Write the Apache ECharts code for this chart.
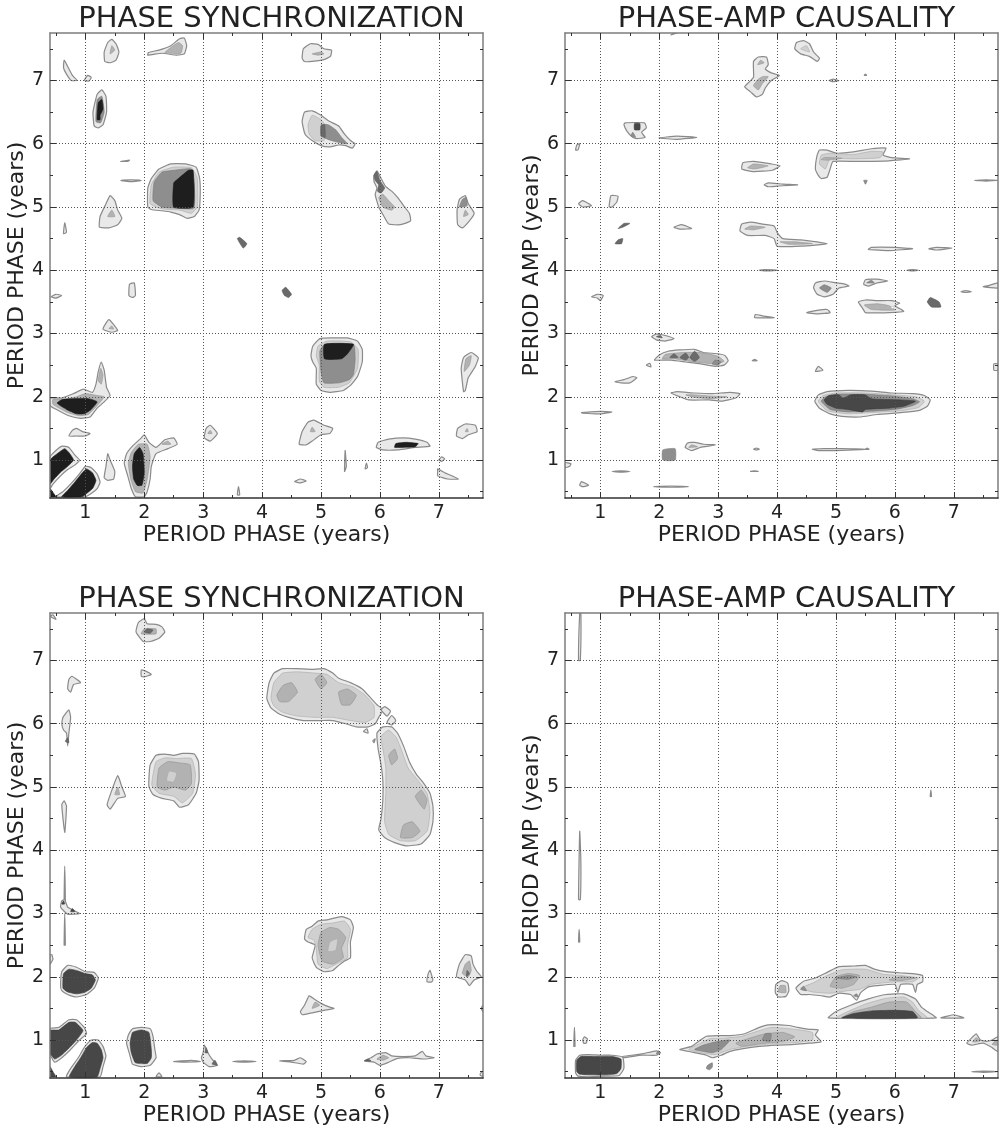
<!DOCTYPE html>
<html>
<head>
<meta charset="utf-8">
<script src="https://cdn.jsdelivr.net/npm/echarts@6/dist/echarts.min.js"></script>
<style>html,body{margin:0;padding:0;background:#fff}#c{width:1003px;height:1129px}</style>
</head>
<body>
<div id="c"></div>
<script>
// axis settings
const AXIS_MIN = 0.4, AXIS_MAX = 7.75;
const majorTicks = [1, 2, 3, 4, 5, 6, 7];
const minorTicks = [0.5, 1.5, 2.5, 3.5, 4.5, 5.5, 6.5, 7.5];
const titles = ['PHASE SYNCHRONIZATION', 'PHASE-AMP CAUSALITY', 'PHASE SYNCHRONIZATION', 'PHASE-AMP CAUSALITY'];
const xNames = ['PERIOD PHASE (years)', 'PERIOD PHASE (years)', 'PERIOD PHASE (years)', 'PERIOD PHASE (years)'];
const yNames = ['PERIOD PHASE (years)', 'PERIOD AMP (years)', 'PERIOD PHASE (years)', 'PERIOD AMP (years)'];

// contour regions: [level, x1,y1, x2,y2, ...] in data units (years)
const syncTop = [
[1, 0.64,7.32, 0.7,7.22, 0.78,7.08, 0.86,7.0, 0.76,7.0, 0.68,7.1, 0.63,7.2],
[1, 0.98,7.0, 1.04,7.08, 1.1,7.05, 1.06,6.99],
[1, 1.33,7.3, 1.32,7.45, 1.38,7.6, 1.45,7.65, 1.52,7.58, 1.57,7.45, 1.52,7.32, 1.42,7.28],
[3, 1.42,7.42, 1.45,7.55, 1.5,7.48],
[1, 2.06,7.4, 2.3,7.43, 2.55,7.4, 2.68,7.42, 2.72,7.55, 2.68,7.67, 2.6,7.66, 2.45,7.55, 2.25,7.48, 2.07,7.44],
[3, 2.35,7.44, 2.62,7.43, 2.65,7.55, 2.58,7.6, 2.45,7.52],
[1, 1.15,6.28, 1.13,6.5, 1.2,6.78, 1.28,6.85, 1.35,6.75, 1.36,6.5, 1.3,6.3, 1.22,6.25],
[4, 1.18,6.35, 1.2,6.7, 1.28,6.75, 1.32,6.5, 1.26,6.33],
[7, 1.2,6.38, 1.22,6.65, 1.28,6.7, 1.3,6.55, 1.25,6.45, 1.25,6.38],
[1, 4.68,7.35, 4.7,7.5, 4.82,7.58, 4.95,7.57, 5.05,7.5, 5.18,7.48, 5.16,7.38, 5.05,7.33, 4.85,7.3, 4.72,7.3],
[3, 4.85,7.42, 5.0,7.45, 5.05,7.42, 4.95,7.4],
[1, 4.68,6.35, 4.72,6.5, 4.85,6.52, 5.0,6.45, 5.15,6.35, 5.3,6.28, 5.4,6.15, 5.5,6.05, 5.58,6.0, 5.53,5.93, 5.42,5.97, 5.3,5.98, 5.15,5.95, 5.0,5.97, 4.85,6.05, 4.73,6.15],
[2, 4.78,6.3, 4.85,6.45, 5.0,6.38, 5.1,6.25, 5.05,6.05, 4.9,6.05, 4.8,6.15],
[4, 5.0,6.3, 5.12,6.3, 5.25,6.22, 5.35,6.1, 5.45,6.0, 5.3,6.02, 5.18,6.05, 5.05,6.1],
[5, 5.0,6.28, 5.06,6.3, 5.07,6.1, 5.0,6.12],
[1, 1.6,5.72, 1.75,5.74, 1.72,5.72],
[1, 1.6,5.42, 1.78,5.43, 1.95,5.42, 1.78,5.4],
[1, 2.06,5.0, 2.06,5.3, 2.12,5.45, 2.25,5.6, 2.45,5.68, 2.7,5.68, 2.88,5.63, 2.94,5.45, 2.95,5.2, 2.93,4.95, 2.85,4.85, 2.73,4.82, 2.6,4.88, 2.45,4.92, 2.3,4.94, 2.12,4.96],
[2, 2.1,5.05, 2.12,5.35, 2.25,5.55, 2.5,5.63, 2.8,5.62, 2.9,5.45, 2.9,5.0, 2.8,4.9, 2.6,4.95, 2.3,4.97],
[4, 2.15,5.1, 2.17,5.4, 2.3,5.55, 2.5,5.58, 2.8,5.6, 2.85,5.35, 2.84,4.98, 2.55,4.98, 2.3,5.0],
[7, 2.5,5.0, 2.5,5.38, 2.58,5.45, 2.75,5.58, 2.83,5.58, 2.83,5.0],
[1, 1.24,4.68, 1.25,4.85, 1.35,5.05, 1.42,5.18, 1.5,5.1, 1.55,4.95, 1.62,4.82, 1.55,4.72, 1.4,4.67],
[3, 1.38,4.85, 1.45,4.95, 1.5,4.85],
[1, 0.63,4.58, 0.65,4.75, 0.68,4.6],
[1, 5.9,5.5, 5.95,5.57, 6.02,5.45, 6.1,5.32, 6.2,5.25, 6.3,5.15, 6.42,5.0, 6.5,4.9, 6.52,4.78, 6.35,4.72, 6.15,4.73, 6.07,4.85, 5.98,5.0, 5.92,5.2, 5.95,5.3, 5.9,5.4],
[5, 5.9,5.5, 5.95,5.56, 6.0,5.42, 6.08,5.3, 6.02,5.22, 5.96,5.25, 5.98,5.35, 5.92,5.42],
[3, 5.98,5.15, 6.05,5.2, 6.15,5.1, 6.25,5.0, 6.2,4.95, 6.05,5.0],
[1, 7.32,4.72, 7.31,4.95, 7.35,5.12, 7.45,5.18, 7.5,5.05, 7.6,4.9, 7.52,4.78, 7.4,4.67],
[4, 7.35,5.0, 7.4,5.12, 7.46,5.15, 7.48,5.02],
[3, 7.42,4.85, 7.45,4.95, 7.5,4.88],
[5, 3.58,4.5, 3.62,4.52, 3.74,4.42, 3.68,4.35],
[1, 0.42,3.58, 0.5,3.62, 0.6,3.6, 0.5,3.56],
[1, 1.74,3.6, 1.75,3.78, 1.83,3.8, 1.85,3.6, 1.8,3.57],
[5, 4.34,3.68, 4.4,3.73, 4.5,3.62, 4.45,3.57, 4.38,3.6],
[1, 1.3,3.07, 1.4,3.22, 1.55,3.05, 1.45,3.02],
[3, 1.4,3.08, 1.45,3.12, 1.48,3.07],
[1, 4.83,2.65, 4.86,2.8, 4.98,2.92, 5.2,2.93, 5.45,2.93, 5.62,2.88, 5.7,2.75, 5.7,2.55, 5.62,2.32, 5.5,2.18, 5.38,2.1, 5.15,2.07, 5.0,2.1, 4.92,2.2, 4.92,2.45, 4.86,2.55],
[2, 4.92,2.65, 4.95,2.8, 5.1,2.88, 5.5,2.87, 5.63,2.75, 5.62,2.45, 5.48,2.22, 5.3,2.15, 5.05,2.15, 4.97,2.25, 4.97,2.5],
[4, 4.98,2.72, 5.05,2.82, 5.55,2.83, 5.58,2.6, 5.55,2.35, 5.48,2.27, 5.3,2.22, 5.05,2.22, 5.0,2.4],
[7, 5.06,2.6, 5.06,2.83, 5.55,2.83, 5.45,2.68, 5.35,2.6],
[1, 7.42,2.08, 7.38,2.45, 7.42,2.62, 7.55,2.7, 7.67,2.62, 7.62,2.48, 7.5,2.3, 7.45,2.1],
[3, 7.43,2.4, 7.46,2.6, 7.55,2.65, 7.52,2.5],
[1, 0.4,1.86, 0.4,1.98, 0.6,1.98, 0.8,2.05, 0.97,2.12, 1.12,2.07, 1.18,2.2, 1.22,2.4, 1.27,2.55, 1.32,2.42, 1.36,2.15, 1.42,2.02, 1.32,1.92, 1.2,1.82, 1.08,1.68, 0.92,1.66, 0.72,1.7, 0.55,1.78],
[3, 0.45,1.88, 0.45,1.96, 0.62,1.96, 0.85,2.0, 1.0,2.05, 1.2,2.02, 1.32,2.0, 1.2,1.86, 1.05,1.72, 0.9,1.7, 0.7,1.75],
[7, 0.52,1.9, 0.62,1.96, 1.05,1.97, 1.2,1.92, 1.1,1.8, 0.98,1.73, 0.85,1.73, 0.68,1.8],
[3, 1.22,2.25, 1.26,2.45, 1.3,2.35, 1.27,2.2],
[1, 0.72,1.38, 0.78,1.47, 0.85,1.5, 0.95,1.45, 1.08,1.42, 1.0,1.38, 0.85,1.38],
[1, 0.4,0.55, 0.4,1.05, 0.5,1.15, 0.6,1.22, 0.72,1.2, 0.82,1.08, 0.9,1.0, 0.82,0.92, 0.7,0.85, 0.58,0.75, 0.45,0.62],
[7, 0.4,0.62, 0.4,1.0, 0.55,1.12, 0.65,1.18, 0.72,1.12, 0.8,1.0, 0.7,0.9, 0.57,0.8, 0.47,0.7],
[1, 0.5,0.42, 0.62,0.5, 0.78,0.65, 0.9,0.78, 1.0,0.9, 1.1,0.88, 1.2,0.78, 1.25,0.65, 1.2,0.55, 1.1,0.47, 1.0,0.42],
[7, 0.6,0.42, 0.7,0.52, 0.82,0.65, 0.95,0.8, 1.02,0.86, 1.12,0.8, 1.18,0.68, 1.13,0.56, 1.02,0.47, 0.95,0.42],
[7, 0.4,0.42, 0.4,0.55, 0.48,0.45, 0.5,0.42],
[1, 1.66,0.95, 1.7,1.1, 1.8,1.22, 1.95,1.35, 2.0,1.4, 2.08,1.28, 2.2,1.2, 2.35,1.32, 2.5,1.35, 2.56,1.25, 2.4,1.18, 2.2,1.1, 2.12,0.9, 2.1,0.7, 2.05,0.5, 2.0,0.42, 1.85,0.42, 1.78,0.55, 1.72,0.75],
[3, 1.73,0.95, 1.78,1.12, 1.9,1.25, 2.05,1.25, 2.1,1.05, 2.05,0.7, 1.98,0.48, 1.85,0.5, 1.77,0.7],
[7, 1.8,0.9, 1.83,1.1, 1.92,1.2, 1.98,1.1, 2.0,0.8, 1.96,0.6, 1.88,0.6, 1.82,0.7],
[3, 2.3,1.25, 2.4,1.3, 2.45,1.25],
[1, 1.32,0.72, 1.35,0.9, 1.38,1.1, 1.42,1.0, 1.5,0.82, 1.48,0.7, 1.38,0.68],
[1, 3.02,1.35, 3.05,1.5, 3.12,1.55, 3.24,1.42, 3.12,1.3],
[3, 3.08,1.42, 3.12,1.47, 3.15,1.42],
[1, 4.63,1.25, 4.68,1.45, 4.78,1.6, 4.88,1.63, 5.05,1.55, 5.2,1.5, 5.15,1.42, 5.0,1.4, 4.85,1.3, 4.75,1.24],
[3, 4.82,1.45, 4.85,1.52, 4.9,1.45],
[1, 5.94,1.2, 5.97,1.28, 6.15,1.33, 6.4,1.35, 6.6,1.33, 6.8,1.28, 6.85,1.22, 6.6,1.2, 6.3,1.16, 6.05,1.16],
[7, 6.25,1.2, 6.27,1.26, 6.45,1.28, 6.65,1.26, 6.6,1.21, 6.4,1.2],
[1, 7.3,1.38, 7.32,1.5, 7.45,1.57, 7.62,1.55, 7.65,1.45, 7.5,1.4, 7.4,1.34],
[3, 7.45,1.45, 7.48,1.5, 7.5,1.45],
[1, 7.0,1.0, 7.05,1.05, 7.1,1.02, 7.05,0.98],
[1, 6.98,0.82, 6.98,0.86, 7.1,0.8, 7.33,0.7, 7.15,0.7, 6.98,0.75],
[1, 5.4,0.82, 5.41,1.15, 5.43,0.9],
[1, 5.75,0.86, 5.77,0.95, 5.79,0.88],
[1, 4.55,0.66, 4.65,0.7, 4.75,0.67, 4.65,0.64],
[1, 3.58,0.45, 3.6,0.58, 3.62,0.45]
];

const causTop = [
[1, 3.6,7.3, 3.68,7.37, 3.82,7.37, 3.85,7.25, 3.8,7.18, 3.9,7.12, 4.04,7.08, 3.9,7.0, 3.8,6.88, 3.75,6.78, 3.65,6.74, 3.55,6.82, 3.45,6.9, 3.52,6.97, 3.6,7.05, 3.6,7.15],
[3, 3.6,6.92, 3.68,7.02, 3.75,7.06, 3.85,7.06, 3.75,6.95, 3.68,6.85],
[3, 3.67,7.25, 3.72,7.32, 3.78,7.28],
[1, 4.3,7.5, 4.33,7.6, 4.45,7.63, 4.55,7.58, 4.62,7.45, 4.72,7.35, 4.68,7.3, 4.55,7.38, 4.4,7.42],
[2, 4.4,7.5, 4.5,7.55, 4.55,7.45],
[1, 4.88,7.0, 4.95,7.02, 5.05,7.0, 4.95,6.98],
[1, 5.48,7.08, 5.5,7.1, 5.52,7.08],
[1, 2.2,7.72, 2.25,7.75, 2.3,7.75],
[1, 1.4,6.3, 1.42,6.33, 1.75,6.33, 1.78,6.25, 1.7,6.18, 1.76,6.1, 1.62,6.08, 1.55,6.1, 1.45,6.2],
[6, 1.58,6.22, 1.58,6.32, 1.67,6.32, 1.67,6.22],
[4, 1.52,6.12, 1.6,6.1, 1.55,6.18],
[1, 1.99,6.09, 2.3,6.12, 2.64,6.1, 2.3,6.07],
[1, 0.58,5.9, 0.6,5.98, 0.65,6.0, 0.62,5.9],
[1, 3.4,5.6, 3.42,5.7, 3.6,5.72, 3.9,5.68, 4.05,5.65, 3.92,5.58, 3.6,5.56],
[3, 3.5,5.62, 3.6,5.68, 3.85,5.65, 3.62,5.6],
[1, 4.65,5.6, 4.68,5.82, 4.72,5.9, 4.85,5.9, 5.0,5.85, 5.3,5.87, 5.6,5.92, 5.85,5.93, 5.8,5.82, 5.95,5.78, 6.25,5.76, 5.9,5.73, 5.35,5.72, 4.95,5.72, 4.9,5.6, 4.85,5.47, 4.75,5.45, 4.7,5.5],
[2, 4.72,5.68, 4.75,5.82, 4.9,5.85, 5.3,5.83, 5.6,5.88, 5.8,5.87, 5.75,5.78, 5.3,5.76, 4.9,5.76, 4.82,5.6],
[3, 4.75,5.75, 4.8,5.78, 5.1,5.77, 4.85,5.74],
[1, 3.78,5.35, 3.85,5.38, 4.1,5.36, 4.35,5.35, 4.0,5.33, 3.85,5.32],
[4, 5.47,5.42, 5.53,5.42, 5.5,5.36],
[1, 0.63,5.05, 0.7,5.1, 0.85,5.02, 0.7,5.0],
[1, 1.15,5.0, 1.18,5.18, 1.3,5.17, 1.28,5.08, 1.2,5.0],
[1, 7.35,5.42, 7.55,5.43, 7.75,5.42, 7.55,5.41],
[5, 1.3,4.66, 1.4,4.74, 1.5,4.74, 1.38,4.68],
[5, 1.25,4.42, 1.3,4.48, 1.38,4.5, 1.36,4.42],
[1, 2.25,4.68, 2.38,4.72, 2.55,4.66, 2.35,4.65],
[1, 3.37,4.62, 3.4,4.73, 3.55,4.76, 3.75,4.73, 3.95,4.7, 4.0,4.6, 4.1,4.5, 4.4,4.48, 4.85,4.42, 4.4,4.38, 4.0,4.38, 3.95,4.5, 3.8,4.55, 3.5,4.55],
[3, 3.45,4.65, 3.55,4.7, 3.8,4.68, 3.6,4.64],
[3, 4.05,4.45, 4.3,4.45, 4.6,4.42, 4.2,4.41],
[1, 5.55,4.33, 5.6,4.36, 6.0,4.36, 6.3,4.34, 5.9,4.31],
[1, 6.57,4.34, 6.7,4.36, 6.97,4.35, 6.7,4.32],
[1, 3.7,4.0, 3.8,4.01, 4.0,4.0, 3.85,3.99],
[1, 6.2,4.0, 6.3,4.01, 6.4,4.0, 6.3,3.99],
[1, 4.62,3.72, 4.65,3.8, 4.8,3.83, 5.0,3.8, 5.15,3.78, 5.22,3.75, 5.05,3.72, 4.95,3.62, 4.8,3.58, 4.68,3.62],
[4, 4.72,3.72, 4.8,3.77, 4.92,3.72, 4.85,3.65],
[1, 5.47,3.78, 5.5,3.85, 5.7,3.86, 5.88,3.83, 5.7,3.8, 5.55,3.75],
[4, 5.52,3.8, 5.6,3.84, 5.65,3.8],
[1, 5.38,3.5, 5.5,3.53, 5.7,3.52, 5.95,3.52, 6.08,3.48, 6.0,3.44, 6.15,3.35, 5.9,3.33, 5.5,3.33, 5.45,3.4],
[3, 5.48,3.45, 5.7,3.47, 5.9,3.44, 6.0,3.37, 5.6,3.38],
[0, 5.93,3.41, 5.96,3.43, 5.99,3.41, 5.96,3.39],
[5, 6.55,3.5, 6.6,3.57, 6.75,3.5, 6.78,3.42, 6.62,3.42],
[1, 4.5,3.33, 4.7,3.37, 4.85,3.38, 4.9,3.33, 4.7,3.31],
[1, 0.85,3.58, 0.95,3.62, 1.05,3.6, 1.0,3.52, 0.95,3.56],
[1, 7.12,3.66, 7.2,3.68, 7.3,3.66, 7.2,3.65],
[1, 7.5,3.74, 7.6,3.76, 7.75,3.8, 7.75,3.72],
[1, 3.62,3.25, 3.63,3.3, 3.75,3.28, 3.95,3.25],
[1, 1.87,2.95, 1.95,2.99, 2.05,2.98, 2.25,2.92, 2.1,2.88, 1.95,2.9],
[5, 1.95,2.95, 2.02,2.97, 2.05,2.93],
[1, 1.92,2.58, 2.0,2.66, 2.15,2.72, 2.35,2.74, 2.6,2.75, 2.75,2.7, 3.0,2.68, 3.12,2.65, 3.17,2.57, 3.1,2.5, 2.95,2.48, 2.7,2.52, 2.45,2.55, 2.2,2.58],
[3, 2.05,2.6, 2.1,2.67, 2.4,2.7, 2.7,2.7, 3.0,2.64, 3.1,2.56, 2.95,2.52, 2.6,2.55, 2.25,2.6],
[5, 2.18,2.62, 2.25,2.68, 2.32,2.62],
[5, 2.35,2.62, 2.45,2.69, 2.5,2.62, 2.45,2.58],
[5, 2.52,2.62, 2.6,2.72, 2.68,2.62, 2.6,2.56],
[4, 2.9,2.52, 2.95,2.58, 3.05,2.55, 3.0,2.5],
[1, 1.78,2.5, 1.84,2.53, 1.86,2.47],
[1, 1.25,2.24, 1.4,2.27, 1.55,2.32, 1.62,2.3, 1.5,2.22, 1.35,2.22],
[1, 3.58,2.57, 3.62,2.59, 3.66,2.57],
[1, 4.65,2.4, 4.7,2.48, 4.78,2.42],
[1, 7.68,2.42, 7.68,2.52, 7.75,2.52, 7.75,2.42],
[1, 2.2,2.06, 2.3,2.08, 2.6,2.06, 2.9,2.05, 3.2,2.07, 3.37,2.05, 3.3,1.98, 3.05,1.93, 2.85,1.95, 2.5,1.95, 2.35,2.0],
[3, 2.45,2.03, 2.6,2.03, 2.9,2.01, 3.15,2.0, 2.9,1.97, 2.6,1.99],
[1, 4.64,1.93, 4.7,2.03, 4.85,2.08, 5.2,2.1, 5.6,2.09, 5.95,2.06, 6.3,2.05, 6.5,2.02, 6.6,1.95, 6.55,1.85, 6.4,1.78, 6.1,1.75, 5.7,1.72, 5.4,1.68, 5.1,1.69, 4.9,1.73, 4.72,1.82],
[2, 4.7,1.93, 4.78,2.02, 5.0,2.06, 5.5,2.06, 6.0,2.03, 6.35,2.0, 6.5,1.93, 6.4,1.83, 6.1,1.78, 5.6,1.75, 5.2,1.73, 4.85,1.78],
[4, 4.75,1.93, 4.82,2.0, 5.0,2.04, 5.5,2.04, 6.0,2.01, 6.3,1.97, 6.42,1.92, 6.3,1.86, 6.0,1.8, 5.6,1.77, 5.2,1.76, 4.9,1.8],
[6, 4.8,1.95, 4.88,2.02, 5.05,2.03, 5.12,1.98, 5.25,2.03, 5.5,2.03, 5.6,1.97, 5.75,1.96, 6.1,1.95, 6.35,1.93, 6.15,1.85, 5.9,1.82, 5.5,1.8, 5.45,1.76, 5.2,1.8, 5.0,1.82, 4.85,1.88],
[1, 0.68,1.75, 1.0,1.77, 1.2,1.76, 1.0,1.73, 0.7,1.74],
[1, 2.44,1.2, 2.48,1.27, 2.6,1.28, 2.75,1.25, 2.95,1.24, 2.7,1.2, 2.55,1.15],
[3, 2.5,1.2, 2.55,1.24, 2.65,1.21],
[4, 2.06,1.0, 2.06,1.16, 2.27,1.18, 2.27,1.0],
[1, 4.6,1.17, 4.8,1.18, 5.1,1.18, 5.5,1.17, 5.0,1.15, 4.7,1.15],
[1, 3.6,1.17, 3.65,1.19, 3.7,1.17, 3.65,1.16],
[1, 5.5,1.17, 5.53,1.19, 5.56,1.17],
[1, 0.4,0.88, 0.4,0.96, 0.5,0.94, 0.48,0.9],
[1, 0.65,0.6, 0.68,0.66, 0.8,0.6, 0.7,0.58],
[1, 1.9,0.58, 2.2,0.59, 2.5,0.58, 2.2,0.57],
[1, 1.2,0.82, 1.35,0.83, 1.5,0.82, 1.35,0.81],
[1, 3.55,0.82, 3.62,0.83, 3.68,0.82]
];

const syncBottom = [
[1, 1.86,7.45, 1.9,7.6, 2.0,7.66, 2.05,7.58, 2.2,7.57, 2.3,7.53, 2.35,7.45, 2.25,7.35, 2.1,7.3, 1.98,7.3],
[3, 1.95,7.42, 2.0,7.5, 2.2,7.5, 2.2,7.42],
[5, 2.0,7.45, 2.05,7.5, 2.15,7.48, 2.1,7.43],
[1, 1.95,6.75, 1.95,6.85, 2.05,6.82, 2.12,6.78, 2.0,6.74],
[1, 0.4,7.7, 0.45,7.72, 0.5,7.65],
[1, 0.7,6.55, 0.72,6.7, 0.77,6.75, 0.92,6.65, 0.8,6.62, 0.75,6.5],
[1, 0.6,6.0, 0.62,6.1, 0.72,6.22, 0.75,6.1, 0.72,5.85, 0.7,5.65, 0.68,5.85, 0.63,5.9],
[5, 0.66,5.72, 0.7,5.78, 0.72,5.7],
[1, 0.6,4.72, 0.64,4.78, 0.68,4.7, 0.65,4.28],
[1, 4.08,6.4, 4.12,6.65, 4.2,6.8, 4.35,6.87, 4.6,6.87, 4.85,6.86, 5.05,6.87, 5.2,6.8, 5.3,6.72, 5.5,6.65, 5.7,6.55, 5.85,6.4, 5.95,6.3, 6.05,6.22, 5.98,6.1, 5.92,6.0, 5.8,5.95, 5.6,5.95, 5.42,6.0, 5.2,6.05, 5.0,6.05, 4.7,6.05, 4.45,6.1, 4.3,6.15, 4.15,6.25],
[2, 4.15,6.4, 4.2,6.65, 4.35,6.8, 4.6,6.82, 4.9,6.8, 5.1,6.78, 5.3,6.65, 5.55,6.58, 5.75,6.45, 5.9,6.28, 5.9,6.1, 5.75,6.02, 5.5,6.05, 5.2,6.1, 4.9,6.1, 4.6,6.12, 4.35,6.18, 4.2,6.28],
[3, 4.25,6.45, 4.35,6.6, 4.5,6.65, 4.6,6.5, 4.45,6.35, 4.3,6.35],
[3, 5.3,6.5, 5.45,6.55, 5.6,6.45, 5.5,6.3, 5.35,6.3],
[3, 4.9,6.7, 5.0,6.78, 5.1,6.65, 5.0,6.55],
[1, 6.02,6.22, 6.08,6.27, 6.18,6.2, 6.12,6.12],
[1, 6.12,6.02, 6.2,6.13, 6.27,6.05, 6.2,5.98],
[1, 5.95,5.85, 6.05,5.95, 6.2,5.95, 6.3,5.85, 6.4,5.65, 6.5,5.4, 6.62,5.2, 6.75,5.05, 6.85,4.9, 6.9,4.7, 6.9,4.45, 6.85,4.25, 6.7,4.1, 6.45,4.07, 6.25,4.12, 6.08,4.2, 5.98,4.32, 6.02,4.5, 6.05,4.8, 6.05,5.1, 6.02,5.35, 5.97,5.6],
[2, 6.02,5.8, 6.15,5.9, 6.28,5.78, 6.38,5.55, 6.48,5.3, 6.65,5.1, 6.8,4.9, 6.85,4.6, 6.8,4.3, 6.6,4.15, 6.35,4.15, 6.15,4.25, 6.08,4.45, 6.1,4.9, 6.1,5.3, 6.05,5.6],
[3, 6.35,4.2, 6.4,4.4, 6.55,4.45, 6.68,4.3, 6.55,4.2],
[3, 6.6,4.85, 6.7,4.95, 6.8,4.8, 6.75,4.65],
[3, 6.15,5.5, 6.25,5.6, 6.3,5.45, 6.2,5.35],
[1, 5.72,5.88, 5.78,5.92, 5.8,5.85],
[1, 5.88,5.73, 5.92,5.76, 5.9,5.7],
[1, 2.08,5.15, 2.1,5.35, 2.2,5.5, 2.35,5.52, 2.5,5.5, 2.65,5.53, 2.85,5.52, 2.92,5.4, 2.93,5.1, 2.88,4.9, 2.75,4.72, 2.6,4.68, 2.5,4.78, 2.3,4.82, 2.15,4.88, 2.08,5.0],
[2, 2.14,5.15, 2.2,5.4, 2.35,5.46, 2.55,5.45, 2.8,5.45, 2.87,5.2, 2.82,4.9, 2.65,4.75, 2.5,4.85, 2.25,4.9, 2.13,5.02],
[3, 2.22,5.0, 2.25,5.3, 2.4,5.4, 2.6,5.38, 2.78,5.35, 2.8,5.05, 2.7,4.95, 2.5,5.0, 2.35,4.95],
[2, 2.38,5.1, 2.42,5.25, 2.55,5.22, 2.5,5.08],
[1, 1.37,4.72, 1.45,4.95, 1.55,5.18, 1.62,5.0, 1.68,4.85, 1.55,4.82, 1.42,4.65],
[3, 1.5,4.88, 1.55,5.0, 1.58,4.88],
[1, 0.64,3.2, 0.65,3.75, 0.66,3.2],
[1, 0.64,2.5, 0.65,3.0, 0.66,2.5],
[1, 0.58,3.1, 0.6,3.2, 0.65,3.22, 0.7,3.1, 0.8,3.05, 0.9,3.0, 0.7,2.99],
[6, 0.75,3.03, 0.78,3.08, 0.82,3.03],
[6, 0.6,3.15, 0.63,3.2, 0.65,3.15],
[1, 0.4,2.2, 0.45,2.28, 0.43,2.35, 0.4,2.35],
[1, 0.58,1.85, 0.6,2.08, 0.7,2.18, 0.85,2.15, 1.0,2.08, 1.15,2.07, 1.22,1.98, 1.15,1.82, 1.02,1.72, 0.85,1.68, 0.7,1.72, 0.6,1.78],
[6, 0.62,1.82, 0.63,2.05, 0.72,2.12, 0.85,2.1, 1.0,2.05, 1.12,2.03, 1.17,1.95, 1.1,1.82, 0.98,1.75, 0.85,1.73, 0.7,1.76],
[1, 0.4,0.78, 0.4,1.18, 0.55,1.2, 0.72,1.32, 0.85,1.32, 0.98,1.2, 1.02,1.1, 0.9,1.0, 0.75,0.85, 0.6,0.72, 0.48,0.65],
[6, 0.4,0.8, 0.4,1.15, 0.55,1.16, 0.72,1.28, 0.83,1.28, 0.96,1.15, 0.85,1.0, 0.72,0.87, 0.58,0.75, 0.48,0.7],
[1, 0.68,0.42, 0.75,0.55, 0.88,0.72, 0.98,0.88, 1.1,1.0, 1.22,1.0, 1.3,0.9, 1.35,0.75, 1.3,0.58, 1.25,0.42],
[6, 0.73,0.42, 0.8,0.55, 0.92,0.72, 1.02,0.88, 1.12,0.96, 1.2,0.95, 1.27,0.85, 1.3,0.72, 1.25,0.55, 1.2,0.42],
[6, 0.4,0.42, 0.4,0.58, 0.45,0.5, 0.5,0.42],
[1, 1.7,0.95, 1.73,1.08, 1.8,1.18, 1.95,1.2, 2.1,1.18, 2.15,1.05, 2.18,0.85, 2.2,0.72, 2.1,0.6, 1.95,0.58, 1.8,0.62, 1.75,0.78],
[6, 1.76,0.95, 1.8,1.12, 1.95,1.16, 2.08,1.12, 2.12,0.85, 2.12,0.72, 2.05,0.63, 1.85,0.64, 1.78,0.8],
[1, 4.72,2.6, 4.75,2.75, 4.85,2.8, 4.95,2.88, 5.1,2.9, 5.35,2.95, 5.5,2.9, 5.55,2.78, 5.5,2.55, 5.5,2.3, 5.4,2.25, 5.3,2.18, 5.2,2.1, 5.05,2.08, 4.92,2.15, 4.85,2.3, 4.9,2.5, 4.78,2.55],
[2, 4.78,2.62, 4.85,2.75, 5.0,2.83, 5.2,2.85, 5.4,2.88, 5.5,2.75, 5.45,2.5, 5.45,2.3, 5.3,2.22, 5.1,2.13, 4.95,2.2, 4.92,2.45, 4.88,2.58],
[3, 4.95,2.5, 5.0,2.7, 5.15,2.78, 5.3,2.75, 5.42,2.62, 5.35,2.45, 5.38,2.3, 5.2,2.2, 5.02,2.25],
[2, 5.12,2.4, 5.15,2.55, 5.28,2.6, 5.25,2.42],
[1, 6.8,1.92, 6.82,2.05, 6.85,2.1, 6.9,1.95, 6.88,1.92],
[1, 7.3,2.0, 7.35,2.2, 7.45,2.35, 7.55,2.33, 7.58,2.2, 7.65,2.08, 7.72,2.0, 7.6,1.95, 7.52,1.86, 7.45,1.95],
[3, 7.4,2.05, 7.45,2.2, 7.52,2.25, 7.55,2.1, 7.5,2.0],
[5, 7.47,2.0, 7.48,2.1, 7.52,2.05],
[1, 4.65,1.45, 4.72,1.55, 4.8,1.7, 4.88,1.65, 5.0,1.58, 5.15,1.52, 5.22,1.5, 5.05,1.47, 4.85,1.43, 4.68,1.4],
[3, 4.85,1.5, 4.9,1.6, 4.98,1.55],
[1, 2.97,0.72, 3.0,0.8, 3.02,0.92, 3.08,0.8, 3.15,0.7, 3.24,0.6, 3.1,0.58, 3.0,0.65],
[5, 3.03,0.8, 3.05,0.88, 3.08,0.8],
[5, 3.15,0.62, 3.2,0.68, 3.24,0.6],
[1, 2.5,0.66, 2.8,0.68, 2.95,0.66, 2.7,0.65],
[1, 3.5,0.66, 3.7,0.67, 3.9,0.66, 3.7,0.65],
[1, 4.3,0.67, 4.55,0.68, 4.65,0.72, 4.75,0.66, 4.7,0.62, 4.5,0.65],
[1, 5.74,0.67, 5.85,0.72, 5.95,0.78, 6.1,0.8, 6.2,0.75, 6.4,0.74, 6.6,0.75, 6.72,0.82, 6.78,0.75, 6.92,0.72, 6.75,0.7, 6.5,0.72, 6.3,0.71, 6.15,0.65, 6.0,0.6, 5.9,0.65],
[5, 5.74,0.67, 5.8,0.7, 5.85,0.67],
[3, 5.95,0.7, 6.05,0.76, 6.15,0.72, 6.05,0.68],
[1, 2.2,0.42, 2.25,0.48, 2.3,0.42],
[1, 7.7,0.45, 7.73,0.5, 7.75,0.5, 7.75,0.42],
[1, 7.72,1.5, 7.75,1.55, 7.75,1.45]
];

const causBottom = [
[1, 0.63,7.0, 0.65,7.75, 0.67,7.75, 0.66,7.0],
[1, 0.63,3.22, 0.65,4.3, 0.67,3.8, 0.66,3.22],
[1, 0.63,2.55, 0.64,2.75, 0.65,2.55],
[1, 0.55,0.9, 0.56,1.2, 0.57,0.9],
[1, 0.58,0.48, 0.58,0.68, 0.65,0.76, 0.8,0.77, 1.0,0.76, 1.2,0.76, 1.38,0.73, 1.4,0.55, 1.32,0.44, 1.1,0.43, 0.8,0.42, 0.62,0.43],
[6, 0.6,0.5, 0.6,0.68, 0.67,0.74, 0.9,0.74, 1.2,0.74, 1.35,0.7, 1.35,0.55, 1.28,0.47, 1.1,0.45, 0.8,0.45, 0.65,0.46],
[1, 1.38,0.74, 1.7,0.78, 1.95,0.83, 2.02,0.8, 1.95,0.76, 1.7,0.76, 1.4,0.72],
[4, 1.95,0.78, 1.98,0.83, 2.02,0.8],
[1, 2.35,0.85, 2.55,0.9, 2.7,1.0, 2.8,1.06, 3.0,1.07, 3.2,1.07, 3.45,1.1, 3.7,1.2, 3.85,1.24, 4.2,1.23, 4.35,1.2, 4.55,1.17, 4.7,1.16, 4.65,1.08, 4.75,0.97, 4.55,0.95, 4.3,0.93, 4.0,0.92, 3.7,0.9, 3.4,0.86, 3.2,0.82, 3.05,0.76, 2.9,0.72, 2.8,0.76, 2.6,0.8, 2.45,0.83],
[2, 2.5,0.85, 2.7,0.95, 2.85,1.02, 3.1,1.03, 3.4,1.06, 3.7,1.15, 3.9,1.2, 4.3,1.17, 4.6,1.12, 4.6,1.0, 4.3,0.96, 3.9,0.94, 3.5,0.9, 3.2,0.85, 2.95,0.77, 2.7,0.8],
[4, 2.6,0.85, 2.75,0.92, 2.95,0.97, 3.2,1.0, 3.05,0.85, 2.9,0.8, 2.75,0.82],
[3, 3.3,0.95, 3.5,1.02, 3.8,1.1, 4.1,1.12, 4.3,1.05, 4.1,0.98, 3.7,0.94, 3.4,0.9],
[4, 3.75,1.0, 3.8,1.1, 3.9,1.1, 3.88,0.98],
[4, 2.8,0.55, 2.82,0.6, 2.9,0.64, 2.9,0.57, 2.85,0.53],
[1, 3.97,1.75, 3.98,1.88, 4.08,1.94, 4.18,1.9, 4.2,1.78, 4.15,1.69, 4.02,1.68],
[3, 4.02,1.76, 4.05,1.86, 4.14,1.86, 4.15,1.75],
[1, 4.32,1.82, 4.45,1.93, 4.65,1.98, 4.85,2.07, 5.05,2.16, 5.3,2.17, 5.5,2.18, 5.65,2.12, 5.85,2.08, 6.1,2.06, 6.3,2.05, 6.47,2.02, 6.47,1.92, 6.38,1.88, 6.35,1.75, 6.3,1.88, 6.1,1.88, 6.05,1.75, 6.0,1.88, 5.7,1.86, 5.55,1.84, 5.42,1.75, 5.35,1.63, 5.25,1.72, 5.05,1.74, 4.9,1.68, 4.75,1.7, 4.55,1.72, 4.4,1.72],
[2, 4.4,1.82, 4.6,1.9, 4.85,2.02, 5.1,2.11, 5.5,2.12, 5.8,2.04, 6.1,2.02, 6.4,1.98, 6.3,1.92, 6.0,1.92, 5.6,1.88, 5.4,1.8, 5.2,1.78, 4.9,1.74, 4.6,1.76],
[3, 4.9,1.85, 5.0,2.0, 5.2,2.05, 5.4,2.02, 5.3,1.88, 5.1,1.82],
[4, 4.4,1.8, 4.45,1.85, 4.5,1.78],
[4, 5.3,1.7, 5.35,1.73, 5.38,1.68],
[4, 5.0,1.98, 5.2,2.02, 5.35,2.0, 5.2,1.96],
[3, 5.9,1.95, 6.1,2.0, 6.35,1.98, 6.1,1.94],
[1, 4.87,1.35, 5.0,1.45, 5.25,1.55, 5.55,1.65, 5.85,1.72, 6.15,1.73, 6.35,1.65, 6.45,1.52, 6.55,1.45, 6.7,1.35],
[2, 5.0,1.35, 5.2,1.45, 5.5,1.57, 5.85,1.66, 6.15,1.68, 6.3,1.6, 6.4,1.47, 6.55,1.35],
[3, 5.1,1.35, 5.3,1.45, 5.6,1.52, 5.9,1.6, 6.2,1.6, 6.35,1.45, 6.45,1.35],
[6, 5.1,1.35, 5.3,1.42, 5.6,1.46, 6.0,1.47, 6.3,1.45, 6.38,1.35],
[1, 6.78,1.35, 6.9,1.38, 7.0,1.4, 7.17,1.35],
[1, 7.22,0.95, 7.32,1.05, 7.38,1.1, 7.45,1.0, 7.55,0.98, 7.65,1.0, 7.75,1.05, 7.75,0.82, 7.65,0.88, 7.5,0.95, 7.3,0.92],
[3, 7.32,0.97, 7.38,1.04, 7.44,0.98],
[3, 7.65,0.93, 7.72,1.0, 7.75,0.92],
[1, 0.7,1.0, 0.73,1.05, 0.78,1.02, 0.76,0.95, 0.72,0.95],
[1, 7.3,0.5, 7.5,0.51, 7.75,0.5, 7.5,0.49],
[1, 6.6,4.85, 6.61,4.95, 6.62,4.85]
];

const panels = [syncTop, causTop, syncBottom, causBottom];
const FILL = ['#ffffff', '#e9e9e9', '#d0d0d0', '#b2b2b2', '#8e8e8e', '#6a6a6a', '#474747', '#1e1e1e'];
const STROKE = ['#aaaaaa', '#8a8a8a', '#a8a8a8', '#909090', '#777777', '#555555', '#3a3a3a', '#1a1a1a'];

const gridRects = [
  {left: 50, top: 33, width: 433, height: 465},
  {left: 565, top: 33, width: 433, height: 465},
  {left: 50, top: 613, width: 433, height: 465},
  {left: 565, top: 613, width: 433, height: 465}
];
const FONT = 'DejaVu Sans';
const TXT = '#222';

const grid = [], xAxis = [], yAxis = [], series = [], title = [];
gridRects.forEach((g, p) => {
  grid.push(Object.assign({containLabel: false}, g));
  title.push({
    text: titles[p], left: g.left + g.width / 2, top: g.top - 33, textAlign: 'center',
    textStyle: {fontFamily: FONT, fontSize: 29, fontWeight: 'normal', color: TXT}
  });
  const base = {type: 'value', gridIndex: p, min: AXIS_MIN, max: AXIS_MAX};
  function make(dir, pos, major, withLabels) {
    const dark = (pos === 'bottom');
    const ax = Object.assign({}, base, {
      position: pos,
      axisLine: major ? {show: true, onZero: false, lineStyle: {color: dark ? '#333' : '#7d7d7d', width: 1.5}} : {show: false, onZero: false},
      axisTick: {show: true, inside: true, length: major ? 6 : 3, customValues: major ? majorTicks : minorTicks,
                 lineStyle: {color: '#333', width: 1}},
      axisLabel: withLabels ? {show: true, customValues: majorTicks, margin: 6, fontFamily: FONT, fontSize: 19, color: TXT,
                 formatter: v => String(Math.round(v))} : {show: false},
      splitLine: (major && withLabels) ? {show: true, lineStyle: {color: '#555', width: 1, type: [1, 2]}} : {show: false},
      minorTick: {show: false}, minorSplitLine: {show: false}
    });
    if (withLabels) {
      if (dir === 'x') {
        Object.assign(ax, {name: xNames[p], nameLocation: 'middle', nameGap: 25,
          nameTextStyle: {fontFamily: FONT, fontSize: 22, color: TXT, verticalAlign: 'top'}});
      } else {
        Object.assign(ax, {name: yNames[p], nameLocation: 'middle', nameGap: 18, nameRotate: 90,
          nameTextStyle: {fontFamily: FONT, fontSize: 22, color: TXT}});
      }
    }
    return ax;
  }
  xAxis.push(make('x', 'bottom', true, true));
  xAxis.push(make('x', 'bottom', false, false));
  xAxis.push(make('x', 'top', true, false));
  xAxis.push(make('x', 'top', false, false));
  yAxis.push(make('y', 'left', true, true));
  yAxis.push(make('y', 'left', false, false));
  yAxis.push(make('y', 'right', true, false));
  yAxis.push(make('y', 'right', false, false));

  const shapes = panels[p];
  series.push({
    type: 'custom',
    coordinateSystem: 'cartesian2d',
    xAxisIndex: p * 4, yAxisIndex: p * 4,
    clip: true, silent: true, z: -1,
    data: shapes.map(s => [s[1], s[2]]),
    renderItem: function (params, api) {
      const s = shapes[params.dataIndex];
      const lvl = s[0];
      const pts = [];
      for (let i = 1; i < s.length; i += 2) pts.push(api.coord([s[i], s[i + 1]]));
      return {
        type: 'polygon',
        shape: {points: pts, smooth: 0.15},
        style: {fill: FILL[lvl], stroke: STROKE[lvl], lineWidth: lvl === 1 ? 1.2 : 0.6}
      };
    }
  });
});

const chart = echarts.init(document.getElementById('c'), null, {renderer: 'canvas', width: 1003, height: 1129});
chart.setOption({animation: false, backgroundColor: '#fff', title, grid, xAxis, yAxis, series});
</script>
</body>
</html>
